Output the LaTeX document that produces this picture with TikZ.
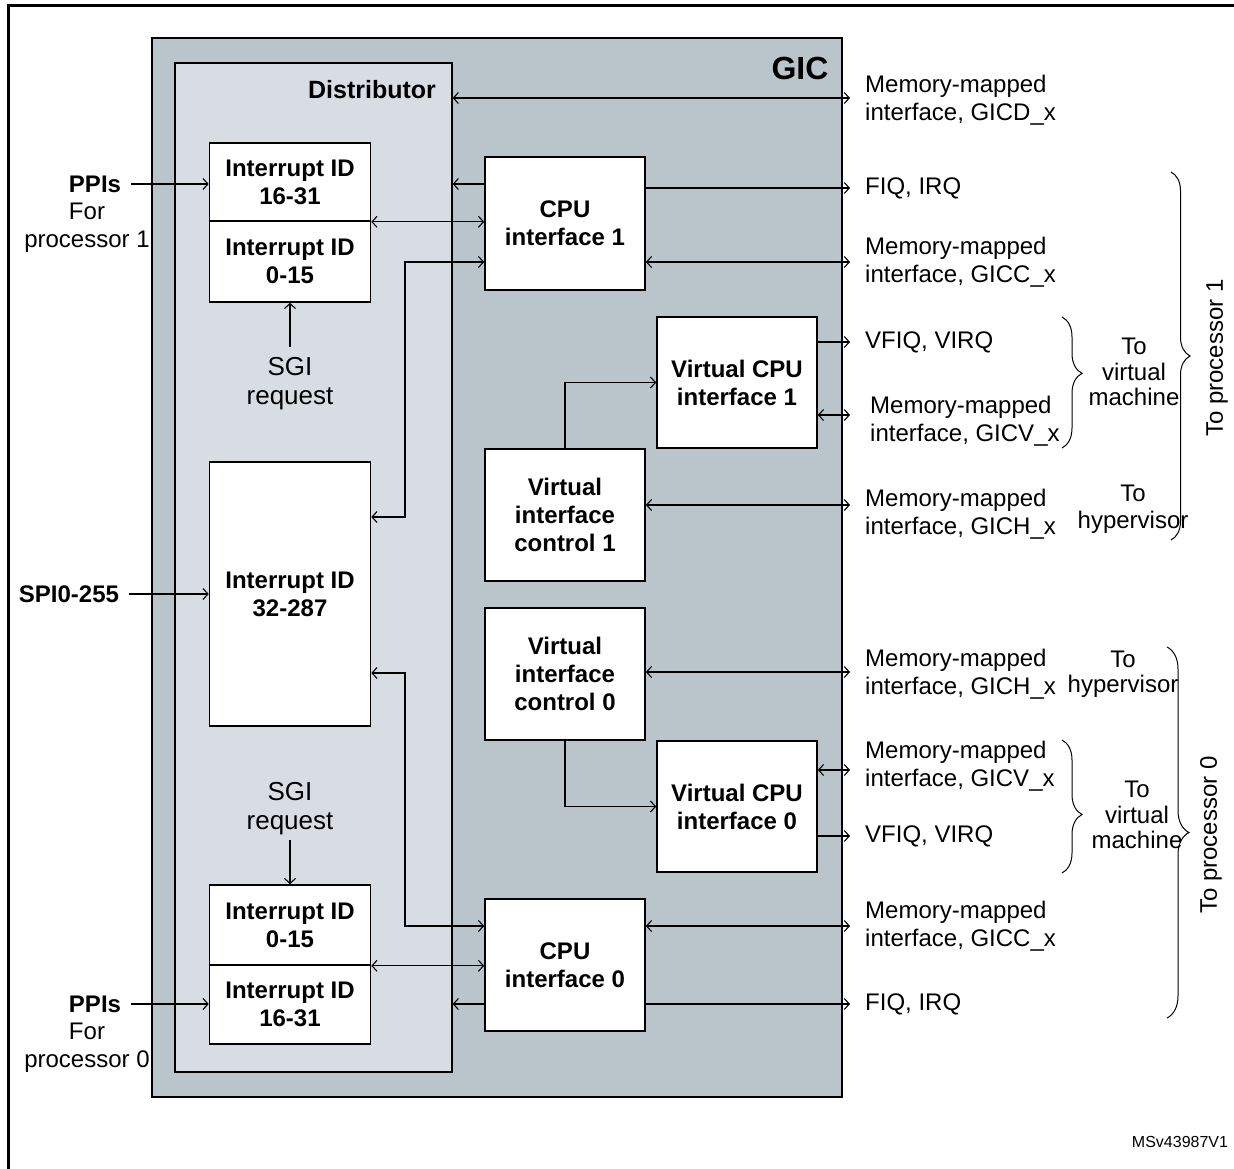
\documentclass[tikz,border=0pt]{standalone}
\usepackage{fontspec}
\setmainfont{Liberation Sans}
\usetikzlibrary{arrows.meta,decorations.pathreplacing}
\definecolor{gicfill}{RGB}{186,196,203}
\definecolor{distfill}{RGB}{216,221,228}
\tikzset{
  box/.style={draw, fill=white, line width=1.6pt, font=\fontsize{24}{28}\selectfont\bfseries, align=center, inner sep=0pt, minimum width=161pt},
  lbl/.style={font=\fontsize{24}{28}\selectfont, align=left, inner sep=0pt, anchor=west},
  ctr/.style={font=\fontsize{24}{28}\selectfont, align=center, inner sep=0pt},
  ctrb/.style={font=\fontsize{24}{28}\selectfont\bfseries, align=center, inner sep=0pt},
  conn/.style={line width=1.1pt},
  tipr/.style={-{Straight Barb[length=5pt,width=11pt]}},
  both/.style={{Straight Barb[length=5pt,width=11pt]}-{Straight Barb[length=5pt,width=11pt]}},
  brc/.style={decorate, line width=1pt}
}
\begin{document}
\begin{tikzpicture}[x=1pt,y=-1pt]
\useasboundingbox (0,0) rectangle (1234,1169);
% frame
\draw[line width=3pt] (8,1169) -- (8,5.5) -- (1234,5.5);
% GIC and distributor
\node[draw, fill=gicfill, line width=1.3pt, minimum width=690pt, minimum height=1059pt, inner sep=0pt] (gic) at (497,567.5) {};
\node[draw, fill=distfill, line width=1.3pt, minimum width=277pt, minimum height=1009pt, inner sep=0pt] (dist) at (313.5,567.5) {};
\node[font=\fontsize{32}{36}\selectfont\bfseries, inner sep=0pt] (gictxt) at (800,68) {GIC};
\node[font=\fontsize{25}{28}\selectfont\bfseries, inner sep=0pt] (disttxt) at (372,90) {Distributor};
% interrupt boxes
\node[box, minimum height=78pt] (ia1) at (290,182) {Interrupt ID\\16-31};
\node[box, minimum height=81pt] (ib1) at (290,261.5) {Interrupt ID\\0-15};
\node[box, minimum height=264pt] (spi) at (290,594) {Interrupt ID\\32-287};
\node[box, minimum height=80pt] (ib0) at (290,925) {Interrupt ID\\0-15};
\node[box, minimum height=79pt] (ia0) at (290,1004.5) {Interrupt ID\\16-31};
% interface boxes
\node[box, minimum width=160pt, minimum height=133pt] (cpu1) at (565,223.5) {CPU\\interface 1};
\node[box, minimum width=160pt, minimum height=131pt] (vcpu1) at (737,382.5) {Virtual CPU\\interface 1};
\node[box, minimum width=160pt, minimum height=132pt] (vic1) at (565,515) {Virtual\\interface\\control 1};
\node[box, minimum width=160pt, minimum height=132pt] (vic0) at (565,674) {Virtual\\interface\\control 0};
\node[box, minimum width=160pt, minimum height=131pt] (vcpu0) at (737,806.5) {Virtual CPU\\interface 0};
\node[box, minimum width=160pt, minimum height=132pt] (cpu0) at (565,965) {CPU\\interface 0};
% left inputs
\node[ctrb] (ppi1) at (95,184) {PPIs};
\node[ctr] (ppi1b) at (87,228) {For\\processor 1};
\node[ctrb] (spiin) at (69,594) {SPI0-255};
\node[ctrb] (ppi0) at (95,1004) {PPIs};
\node[ctr] (ppi0b) at (87,1048) {For\\processor 0};
\draw[conn,tipr] ([xshift=10pt]ppi1.east) -- (ia1.west |- ppi1.east);
\draw[conn,tipr] ([xshift=10pt]spiin.east) -- (spi.west |- spiin.east);
\draw[conn,tipr] ([xshift=10pt]ppi0.east) -- (ia0.west |- ppi0.east);
% SGI requests
\node[ctr, font=\fontsize{26}{29}\selectfont] (sgi1) at (290,384) {SGI\\request};
\node[ctr, font=\fontsize{26}{29}\selectfont] (sgi0) at (290,809) {SGI\\request};
\draw[conn,tipr] ([yshift=11pt]sgi1.north) -- (ib1.south);
\draw[conn,tipr] ([yshift=-5pt]sgi0.south) -- (ib0.north);
% distributor <-> cpu interfaces
\draw[conn,tipr] (cpu1.west |- 0,184) -- (dist.east |- 0,184);
\draw[conn,both] (ia1.south east) -- (cpu1.west |- ia1.south east);
\draw[conn,both] (cpu1.west |- 0,262) -- (405,262) -- (405,517) -- (spi.east |- 0,517);
\draw[conn,both] (cpu0.west |- 0,926) -- (405,926) -- (405,673) -- (spi.east |- 0,673);
\draw[conn,both] (ib0.south east) -- (cpu0.west |- ib0.south east);
\draw[conn,tipr] (cpu0.west |- 0,1004) -- (dist.east |- 0,1004);
\draw[conn,tipr] (vic1.north) |- (vcpu1.west);
\draw[conn,tipr] (vic0.south) |- (vcpu0.west);
% right side outputs
\coordinate (oD) at (850,98);
\coordinate (oF1) at (850,188);
\coordinate (oC1) at (850,262);
\coordinate (oVF1) at (850,342);
\coordinate (oV1) at (850,415);
\coordinate (oH1) at (850,505);
\coordinate (oH0) at (850,672);
\coordinate (oV0) at (850,770);
\coordinate (oVF0) at (850,836);
\coordinate (oC0) at (850,926);
\coordinate (oF0) at (850,1004);
\draw[conn,both] (dist.east |- oD) -- (oD);
\draw[conn,tipr] (cpu1.east |- oF1) -- (oF1);
\draw[conn,both] (cpu1.east |- oC1) -- (oC1);
\draw[conn,tipr] (vcpu1.east |- oVF1) -- (oVF1);
\draw[conn,both] (vcpu1.east |- oV1) -- (oV1);
\draw[conn,both] (vic1.east |- oH1) -- (oH1);
\draw[conn,both] (vic0.east |- oH0) -- (oH0);
\draw[conn,both] (vcpu0.east |- oV0) -- (oV0);
\draw[conn,tipr] (vcpu0.east |- oVF0) -- (oVF0);
\draw[conn,both] (cpu0.east |- oC0) -- (oC0);
\draw[conn,tipr] (cpu0.east |- oF0) -- (oF0);
\node[lbl] (tD) at (865,100) {Memory-mapped\\interface, GICD\_x};
\node[lbl] (tF1) at (865,188) {FIQ, IRQ};
\node[lbl] (tC1) at (865,262) {Memory-mapped\\interface, GICC\_x};
\node[lbl] (tVF1) at (865,342) {VFIQ, VIRQ};
\node[lbl] (tV1) at (870,421) {Memory-mapped\\interface, GICV\_x};
\node[lbl] (tH1) at (865,514) {Memory-mapped\\interface, GICH\_x};
\node[lbl] (tH0) at (865,674) {Memory-mapped\\interface, GICH\_x};
\node[lbl] (tV0) at (865,766) {Memory-mapped\\interface, GICV\_x};
\node[lbl] (tVF0) at (865,836) {VFIQ, VIRQ};
\node[lbl] (tC0) at (865,926) {Memory-mapped\\interface, GICC\_x};
\node[lbl] (tF0) at (865,1004) {FIQ, IRQ};
% braces
\draw[brc, decoration={brace, amplitude=20pt, aspect=0.43}] (1062,317) -- (1062,448);
\draw[brc, decoration={brace, amplitude=19pt, aspect=0.5}] (1171,172) -- (1171,540);
\draw[brc, decoration={brace, amplitude=20pt, aspect=0.56}] (1062,740) -- (1062,873);
\draw[brc, decoration={brace, amplitude=22pt, aspect=0.5}] (1167,647) -- (1167,1018);
\node[font=\fontsize{24}{25.5}\selectfont, align=center, inner sep=0pt] (vm1) at (1134,372) {To\\virtual\\machine};
\node[font=\fontsize{24}{27}\selectfont, align=center, inner sep=0pt] (hv1) at (1133,509) {To\\hypervisor};
\node[font=\fontsize{24}{25.5}\selectfont, align=center, inner sep=0pt] (vm0) at (1137,815) {To\\virtual\\machine};
\node[font=\fontsize{24}{25}\selectfont, align=center, inner sep=0pt] (hv0) at (1123,674) {To\\hypervisor};
\node[font=\fontsize{24}{28}\selectfont, inner sep=0pt, rotate=90] (p1) at (1217,358) {To processor 1};
\node[font=\fontsize{24}{28}\selectfont, inner sep=0pt, rotate=90] (p0) at (1211,835) {To processor 0};
\node[font=\fontsize{16}{18}\selectfont, inner sep=0pt] (ms) at (1180,1142) {MSv43987V1};
\end{tikzpicture}
\end{document}
